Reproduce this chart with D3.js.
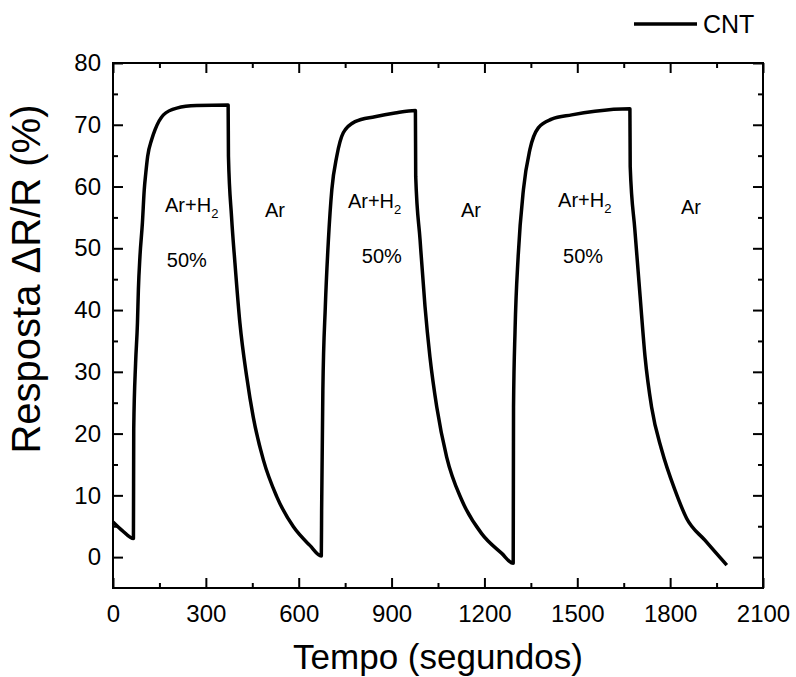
<!DOCTYPE html>
<html>
<head>
<meta charset="utf-8">
<script src="https://cdn.jsdelivr.net/npm/d3@7"></script>
<style>
  body { margin: 0; background: #fff; }
  text { font-family: "Liberation Sans", Arial, sans-serif; fill: #000; }
</style>
</head>
<body>
<div id="chart"></div>
<script>
// response curve (time in s, response in %)
var tempo = [0, 30, 66, 67, 73, 79, 82, 87, 95, 101, 106, 112, 125, 136, 163, 206, 270, 372,
    373, 383, 394, 410, 432, 453, 486, 529, 583, 636, 673,
    674, 678, 686, 696, 707, 723, 744, 782, 846, 911, 977,
    978, 992, 1008, 1024, 1046, 1078, 1127, 1191, 1256, 1293,
    1294, 1299, 1309, 1326, 1347, 1374, 1417, 1482, 1557, 1670,
    1671, 1686, 1703, 1719, 1740, 1773, 1816, 1853, 1913, 1983];
var resposta = [5.7, 4.3, 3.0, 20.8, 31.4, 37.9, 43.3, 48.6, 54.1, 59.5, 62.2, 64.9, 67.6, 69.2, 71.6, 72.7, 73.1, 73.2,
    64.9, 55.1, 47.6, 37.9, 29.2, 22.7, 15.7, 9.8, 4.9, 1.9, 0.2,
    7.5, 27.0, 40.6, 51.4, 59.5, 64.9, 68.7, 70.5, 71.3, 71.9, 72.3,
    61.6, 51.4, 40.6, 32.4, 24.3, 16.2, 9.2, 3.8, 0.6, -1.0,
    24.3, 36.8, 48.7, 59.5, 66.0, 69.5, 70.9, 71.6, 72.2, 72.6,
    63.2, 53.0, 42.2, 32.4, 24.3, 17.3, 10.8, 6.3, 2.7, -1.3];

var xTicks = [0, 300, 600, 900, 1200, 1500, 1800, 2100];
var xMinor = [150, 450, 750, 1050, 1350, 1650, 1950];
var yTicks = [0, 10, 20, 30, 40, 50, 60, 70, 80];
var yMinor = [5, 15, 25, 35, 45, 55, 65, 75];

// gas labels, placed in data coordinates
var gasLabels = ["Ar+H", "Ar+H", "Ar+H"];
var gasT = [168, 759, 1438];
var gasV = [55.9, 56.5, 56.7];
var pctT = [174, 804, 1454];
var pctV = [47.0, 47.6, 47.6];
var arT = [491, 1124, 1835];
var arV = [55.1, 55.1, 55.6];

var margin = { top: 63, right: 33, bottom: 89, left: 113 };
var width = 796 - margin.left - margin.right;
var height = 677 - margin.top - margin.bottom;

var svg = d3.select("#chart").append("svg")
    .attr("width", 796)
    .attr("height", 677);

var g = svg.append("g")
    .attr("transform", "translate(" + margin.left + "," + margin.top + ")");

var x = d3.scaleLinear().domain([0, 2100]).range([0, width]);
var y = d3.scaleLinear().domain([-5, 80]).range([height, 0]);

function styleAxis(sel) {
    sel.select(".domain").remove();
    sel.selectAll("line").attr("stroke", "#000").attr("stroke-width", 2);
    sel.selectAll("text").style("font-size", "24px")
        .style("font-family", "'Liberation Sans', Arial, sans-serif");
}

// major ticks with labels
g.append("g")
    .attr("transform", "translate(0," + height + ")")
    .call(d3.axisBottom(x).tickValues(xTicks).tickSize(-10).tickPadding(17).tickFormat(d3.format("d")))
    .call(styleAxis);

g.append("g")
    .call(d3.axisLeft(y).tickValues(yTicks).tickSize(-10).tickPadding(12).tickFormat(d3.format("d")))
    .call(styleAxis);

// minor ticks
g.append("g")
    .attr("transform", "translate(0," + height + ")")
    .call(d3.axisBottom(x).tickValues(xMinor).tickSize(-5).tickFormat(""))
    .call(styleAxis);
g.append("g")
    .call(d3.axisLeft(y).tickValues(yMinor).tickSize(-5).tickFormat(""))
    .call(styleAxis);

// mirrored ticks on top and right
g.append("g")
    .call(d3.axisTop(x).tickValues(xTicks).tickSize(-10).tickFormat(""))
    .call(styleAxis);
g.append("g")
    .call(d3.axisTop(x).tickValues(xMinor).tickSize(-5).tickFormat(""))
    .call(styleAxis);
g.append("g")
    .attr("transform", "translate(" + width + ",0)")
    .call(d3.axisRight(y).tickValues(yTicks).tickSize(-10).tickFormat(""))
    .call(styleAxis);
g.append("g")
    .attr("transform", "translate(" + width + ",0)")
    .call(d3.axisRight(y).tickValues(yMinor).tickSize(-5).tickFormat(""))
    .call(styleAxis);

// frame
g.append("rect")
    .attr("width", width)
    .attr("height", height)
    .attr("fill", "none")
    .attr("stroke", "#000")
    .attr("stroke-width", 2);

// curve
var line = d3.line()
    .x(function (d, i) { return x(tempo[i]); })
    .y(function (d) { return y(d); })
    .curve(d3.curveMonotoneX);

g.append("path")
    .datum(resposta)
    .attr("d", line)
    .attr("fill", "none")
    .attr("stroke", "#000")
    .attr("stroke-width", 3.5)
    .attr("stroke-linejoin", "round");

// annotations
gasLabels.forEach(function (lab, i) {
    var t = g.append("text")
        .attr("x", x(gasT[i]))
        .attr("y", y(gasV[i]))
        .style("font-size", "20px")
        .text(lab);
    t.append("tspan")
        .attr("dy", 6)
        .style("font-size", "13px")
        .text("2");

    g.append("text")
        .attr("x", x(pctT[i]))
        .attr("y", y(pctV[i]))
        .style("font-size", "20px")
        .text("50%");

    g.append("text")
        .attr("x", x(arT[i]))
        .attr("y", y(arV[i]))
        .style("font-size", "20px")
        .text("Ar");
});

// axis titles
svg.append("text")
    .attr("x", margin.left + width / 2)
    .attr("y", 669)
    .attr("text-anchor", "middle")
    .style("font-size", "35px")
    .text("Tempo (segundos)");

svg.append("text")
    .attr("transform", "translate(40,279) rotate(-90)")
    .attr("text-anchor", "middle")
    .style("font-size", "40px")
    .text("Resposta \u0394R/R (%)");

// legend
svg.append("line")
    .attr("x1", 634).attr("x2", 697)
    .attr("y1", 24).attr("y2", 24)
    .attr("stroke", "#000")
    .attr("stroke-width", 3.5);
svg.append("text")
    .attr("x", 703)
    .attr("y", 33)
    .style("font-size", "25px")
    .text("CNT");
</script>
</body>
</html>
